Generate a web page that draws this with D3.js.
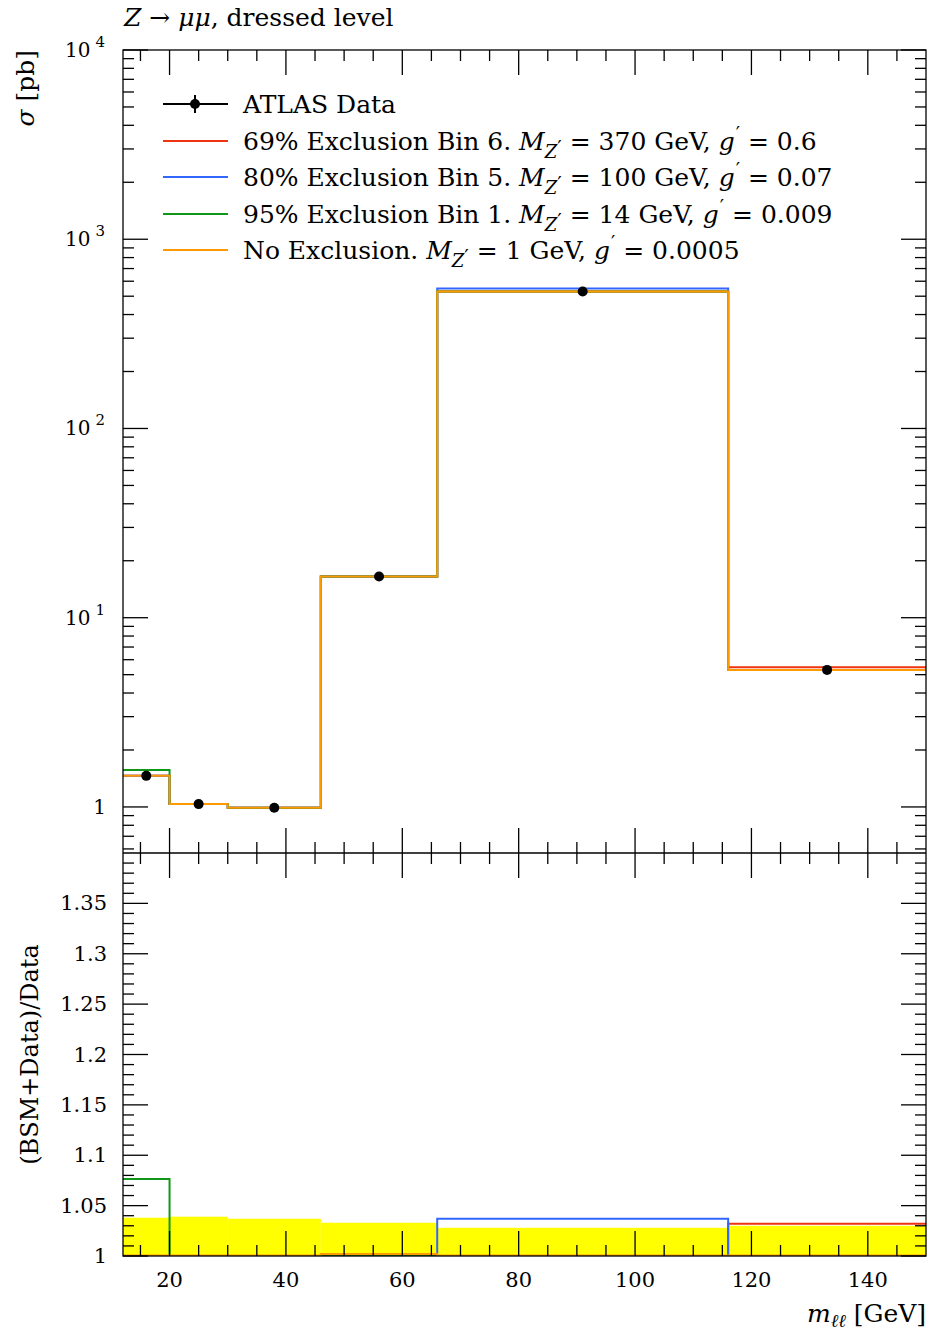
<!DOCTYPE html>
<html>
<head>
<meta charset="utf-8">
<script src="https://cdn.jsdelivr.net/npm/d3@7/dist/d3.min.js"></script>
<style>
  html, body { margin: 0; padding: 0; background: #fff; }
  svg { display: block; }
  text { font-family: "DejaVu Serif", "Liberation Serif", serif; fill: #000; }
</style>
</head>
<body>
<svg id="chart" width="930" height="1334"></svg>
<script>
// Bin edges in m_ll [GeV]
const binEdges = [12, 20, 30, 46, 66, 116, 150];
const binCentres = [16, 25, 38, 56, 91, 133];

// Measured cross sections per bin [pb]
const dataValues = [1.46, 1.035, 0.99, 16.5, 530, 5.3];
// Relative data uncertainty shown as the band in the ratio panel
const dataUncertainty = [0.038, 0.039, 0.037, 0.033, 0.028, 0.030];

// BSM + data predictions per bin [pb]
const redValues    = [1.46, 1.035, 0.99, 16.5, 530, 5.47];
const blueValues   = [1.46, 1.035, 0.99, 16.5, 549, 5.3];
const greenValues  = [1.57, 1.035, 0.99, 16.5, 530, 5.3];
const orangeValues = [1.46, 1.035, 0.99, 16.5, 530, 5.3];

// (BSM+Data)/Data per bin
const redRatio    = [1.0, 1.0, 1.0, 1.0, 1.0, 1.032];
const blueRatio   = [1.0, 1.0, 1.0, 1.0, 1.037, 1.0];
const greenRatio  = [1.0765, 1.0, 1.0, 1.0, 1.0, 1.0];
const orangeRatio = [1.0004, 1.0004, 1.0004, 1.002, 1.0004, 1.0004];

// Axis ticks
const xMajorTicks = [20, 40, 60, 80, 100, 120, 140];
const xMinorTicks = [15, 25, 30, 35, 45, 50, 55, 65, 70, 75, 85, 90, 95, 105, 110, 115, 125, 130, 135, 145];
const yDecades = [1, 10, 100, 1000, 10000];
const ratioMajorTicks = [1, 1.05, 1.1, 1.15, 1.2, 1.25, 1.3, 1.35];
const ratioTickLabels = ["1", "1.05", "1.1", "1.15", "1.2", "1.25", "1.3", "1.35"];

const series = [
  { name: "69% Exclusion Bin 6.", mass: "370", coup: "0.6",    color: "#EE3311", values: redValues,    ratio: redRatio },
  { name: "80% Exclusion Bin 5.", mass: "100", coup: "0.07",   color: "#3366FF", values: blueValues,   ratio: blueRatio },
  { name: "95% Exclusion Bin 1.", mass: "14",  coup: "0.009",  color: "#109618", values: greenValues,  ratio: greenRatio },
  { name: "No Exclusion.",        mass: "1",   coup: "0.0005", color: "#FF9900", values: orangeValues, ratio: orangeRatio }
];

const L = 123, R = 926, T = 50, M = 853, B = 1256;
const svg = d3.select("#chart");

const x = d3.scaleLinear().domain([12, 150]).range([L, R]);
const y = d3.scaleLog().domain([0.571, 10000]).range([M, T]);
const yr = d3.scaleLinear().domain([1, 1.4]).range([B, M]);

// Step path through histogram bins
function stepPath(vals, ys) {
  let p = "";
  vals.forEach((v, i) => {
    const x0 = x(binEdges[i]), x1 = x(binEdges[i + 1]), yy = ys(v);
    p += (i === 0 ? "M" : "L") + x0 + "," + yy + "L" + x1 + "," + yy;
  });
  return p;
}

// ---------- Main panel ----------
const main = svg.append("g");
const clipMain = svg.append("clipPath").attr("id", "clipMain");
clipMain.append("rect").attr("x", L).attr("y", T).attr("width", R - L).attr("height", M - T);
const clipRatio = svg.append("clipPath").attr("id", "clipRatio");
clipRatio.append("rect").attr("x", L).attr("y", M).attr("width", R - L).attr("height", B - M);

const mainMarks = main.append("g").attr("clip-path", "url(#clipMain)");
series.forEach(s => {
  mainMarks.append("path").attr("d", stepPath(s.values, y))
    .attr("fill", "none").attr("stroke", s.color).attr("stroke-width", 2);
});
mainMarks.selectAll("circle.data").data(dataValues).enter().append("circle")
  .attr("cx", (d, i) => x(binCentres[i])).attr("cy", d => y(d)).attr("r", 5).attr("fill", "#000");

// ---------- Ratio panel ----------
const ratio = svg.append("g").attr("clip-path", "url(#clipRatio)");
ratio.selectAll("rect.band").data(dataUncertainty).enter().append("rect")
  .attr("x", (d, i) => x(binEdges[i]))
  .attr("width", (d, i) => x(binEdges[i + 1]) - x(binEdges[i]))
  .attr("y", d => yr(1 + d))
  .attr("height", d => yr(1) - yr(1 + d) + 2)
  .attr("fill", "#FFFF00");
series.forEach(s => {
  ratio.append("path").attr("d", stepPath(s.ratio, yr))
    .attr("fill", "none").attr("stroke", s.color).attr("stroke-width", 2);
});

// ---------- Frames and ticks ----------
const axes = svg.append("g").attr("stroke", "#000").attr("stroke-width", 1.3);
function line(x1, y1, x2, y2) {
  axes.append("line").attr("x1", x1).attr("y1", y1).attr("x2", x2).attr("y2", y2);
}
axes.append("rect").attr("x", L).attr("y", T).attr("width", R - L).attr("height", B - T).attr("fill", "none");
line(L, M, R, M);

const majLen = 25, minLen = 11;
// x ticks on each horizontal edge
[[T, 1], [M, -1], [M, 1], [B, -1]].forEach(([yy, dir]) => {
  xMajorTicks.forEach(v => line(x(v), yy, x(v), yy + dir * majLen));
  xMinorTicks.forEach(v => line(x(v), yy, x(v), yy + dir * minLen));
});

// log y ticks on both sides of the main panel
const logMinors = [];
[0.1, 1, 10, 100, 1000].forEach(dec => {
  for (let k = 2; k <= 9; k++) {
    const v = dec * k;
    if (v > 0.571 && v < 10000) logMinors.push(v);
  }
});
yDecades.forEach(v => { line(L, y(v), L + majLen, y(v)); line(R, y(v), R - majLen, y(v)); });
logMinors.forEach(v => { line(L, y(v), L + minLen, y(v)); line(R, y(v), R - minLen, y(v)); });

// ratio y ticks (minor every 0.01)
const ratioMinor = d3.range(1, 40).filter(k => k % 5 !== 0).map(k => 1 + k / 100);
ratioMajorTicks.forEach(v => { line(L, yr(v), L + majLen, yr(v)); line(R, yr(v), R - majLen, yr(v)); });
ratioMinor.forEach(v => { line(L, yr(v), L + minLen, yr(v)); line(R, yr(v), R - minLen, yr(v)); });

// ---------- Labels ----------
const fs = 25;
// main y tick labels
const decLabels = [["1", null], ["10", "1"], ["10", "2"], ["10", "3"], ["10", "4"]];
yDecades.forEach((v, i) => {
  const t = svg.append("text").attr("y", y(v) + 7).attr("font-size", 20);
  if (decLabels[i][1] === null) {
    t.attr("x", 106).attr("text-anchor", "end").text(decLabels[i][0]);
  } else {
    t.attr("x", 65);
    t.append("tspan").text(decLabels[i][0]);
    t.append("tspan").attr("dx", 5).attr("dy", -10).attr("font-size", 15).text(decLabels[i][1]);
  }
});
// ratio y tick labels
ratioMajorTicks.forEach((v, i) => {
  svg.append("text").attr("x", 107).attr("y", yr(v) + 7).attr("text-anchor", "end")
    .attr("font-size", 21).text(ratioTickLabels[i]);
});
// x tick labels
xMajorTicks.forEach(v => {
  svg.append("text").attr("x", x(v)).attr("y", 1287).attr("text-anchor", "middle")
    .attr("font-size", 21).text(v);
});

// title
const title = svg.append("text").attr("x", 124).attr("y", 26).attr("font-size", fs);
title.append("tspan").attr("font-style", "italic").text("Z");
title.append("tspan").text(" → ");
title.append("tspan").attr("font-style", "italic").text("μμ");
title.append("tspan").text(", dressed level");

// y axis titles
const yl = svg.append("text").attr("transform", "translate(34,50) rotate(-90)")
  .attr("text-anchor", "end").attr("font-size", fs);
yl.append("tspan").attr("font-style", "italic").text("σ");
yl.append("tspan").text(" [pb]");
svg.append("text").attr("transform", `translate(38,${(M + B) / 2}) rotate(-90)`)
  .attr("text-anchor", "middle").attr("font-size", 24).text("(BSM+Data)/Data");

// x axis title
const xl = svg.append("text").attr("x", 926).attr("y", 1322).attr("text-anchor", "end").attr("font-size", fs);
xl.append("tspan").attr("font-style", "italic").text("m");
xl.append("tspan").attr("font-style", "italic").attr("font-size", 18).attr("dy", 5).text("ℓℓ");
xl.append("tspan").attr("dy", -5).text(" [GeV]");

// ---------- Legend ----------
const legY = [104, 141, 177, 214, 250];
const leg = svg.append("g");
leg.append("line").attr("x1", 163).attr("x2", 228).attr("y1", legY[0]).attr("y2", legY[0])
  .attr("stroke", "#000").attr("stroke-width", 2);
leg.append("line").attr("x1", 195).attr("x2", 195).attr("y1", legY[0] - 9).attr("y2", legY[0] + 9)
  .attr("stroke", "#000").attr("stroke-width", 2);
leg.append("circle").attr("cx", 195).attr("cy", legY[0]).attr("r", 5).attr("fill", "#000");
leg.append("text").attr("x", 243).attr("y", legY[0] + 9).attr("font-size", fs).text("ATLAS Data");

series.forEach((s, i) => {
  const yy = legY[i + 1];
  leg.append("line").attr("x1", 163).attr("x2", 228).attr("y1", yy).attr("y2", yy)
    .attr("stroke", s.color).attr("stroke-width", 2);
  const t = leg.append("text").attr("x", 243).attr("y", yy + 9).attr("font-size", fs);
  t.append("tspan").text(s.name + " ");
  t.append("tspan").attr("font-style", "italic").text("M");
  t.append("tspan").attr("font-style", "italic").attr("font-size", 18).attr("dy", 8).text("Z");
  t.append("tspan").attr("font-size", 20).attr("dy", -3).text("′");
  t.append("tspan").attr("dy", -5).text(" = " + s.mass + " GeV, ");
  t.append("tspan").attr("font-style", "italic").text("g");
  t.append("tspan").attr("font-size", 19).attr("dx", 1).attr("dy", -10).text("′");
  t.append("tspan").attr("dy", 10).text(" = " + s.coup);
});
</script>
</body>
</html>
